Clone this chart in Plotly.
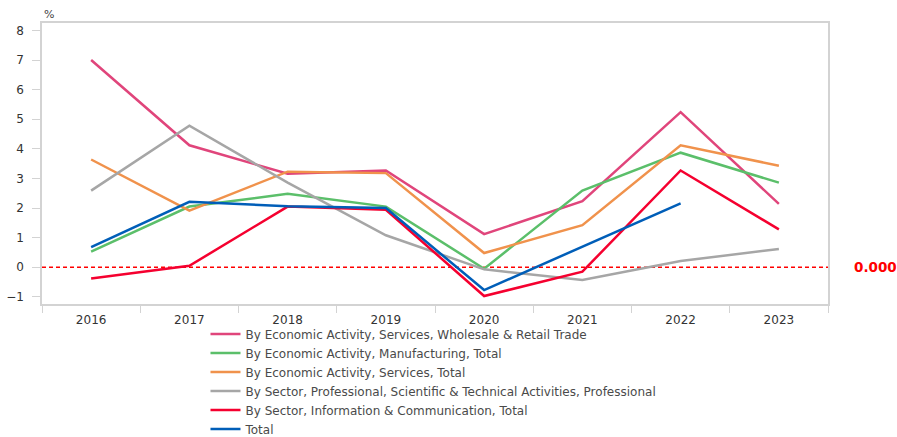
import plotly.graph_objects as go

years = ["2016", "2017", "2018", "2019", "2020", "2021", "2022", "2023"]

wholesale_retail = [7.00, 4.12, 3.16, 3.27, 1.12, 2.23, 5.24, 2.14]
manufacturing = [0.53, 2.05, 2.48, 2.05, -0.05, 2.59, 3.87, 2.86]
services_total = [3.64, 1.91, 3.23, 3.18, 0.48, 1.42, 4.12, 3.43]
professional = [2.59, 4.78, 2.86, 1.08, -0.07, -0.43, 0.21, 0.62]
info_comm = [-0.38, 0.05, 2.05, 1.94, -0.97, -0.15, 3.27, 1.28]
total = [0.68, 2.21, 2.06, 2.00, -0.77, 0.70, 2.16, None]

series = [
    ("By Economic Activity, Services, Wholesale & Retail Trade", wholesale_retail, "#E0457B"),
    ("By Economic Activity, Manufacturing, Total", manufacturing, "#5BBF6A"),
    ("By Economic Activity, Services, Total", services_total, "#F0924C"),
    ("By Sector, Professional, Scientific & Technical Activities, Professional", professional, "#A6A6A6"),
    ("By Sector, Information & Communication, Total", info_comm, "#F5002F"),
    ("Total", total, "#005EB8"),
]

fig = go.Figure()
for name, vals, color in series:
    fig.add_trace(go.Scatter(
        x=years, y=vals, name=name, mode="lines",
        line=dict(color=color, width=2.5),
    ))

axis_gray = "#D3D3D3"
fig.update_layout(
    width=897, height=437,
    margin=dict(l=42, r=69, t=23, b=133, autoexpand=False),
    plot_bgcolor="white", paper_bgcolor="white",
    font=dict(family="DejaVu Sans, sans-serif", color="#333333"),
    showlegend=True,
    legend=dict(
        orientation="v", x=0.208, xanchor="left", y=-0.055, yanchor="top",
        font=dict(size=12, color="#4A4A4A"), itemwidth=30,
        bgcolor="rgba(0,0,0,0)",
    ),
)
fig.update_xaxes(
    type="category", range=[-0.5, 7.5],
    showline=True, linecolor=axis_gray, linewidth=1.5, mirror=True,
    ticks="outside", tickson="boundaries", ticklen=7, tickcolor=axis_gray,
    ticklabelstandoff=4,
    showgrid=False, tickfont=dict(size=12, color="#333333"),
)
fig.update_yaxes(
    range=[-1.24, 8.25], tickvals=list(range(-1, 9)),
    showline=True, linecolor=axis_gray, linewidth=1.5, mirror=True,
    ticks="outside", ticklen=8, tickcolor=axis_gray,
    ticklabelstandoff=6,
    showgrid=False, zeroline=False, tickfont=dict(size=12, color="#333333"),
)

fig.add_shape(
    type="line", xref="paper", yref="y", x0=0, x1=1, y0=0, y1=0,
    line=dict(color="#FF0000", width=1.5, dash="4px,3px"), layer="below",
)
fig.add_annotation(
    text="<b>0.000</b>", xref="paper", yref="y", x=1.031, y=0,
    xanchor="left", yanchor="middle", showarrow=False,
    font=dict(size=13.5, color="#FF0000"),
)
fig.add_annotation(
    text="%", xref="paper", yref="paper", x=0.0, y=1.0,
    xanchor="left", yanchor="bottom", showarrow=False,
    font=dict(size=11, color="#444444"),
)

fig.write_html("out.html")
